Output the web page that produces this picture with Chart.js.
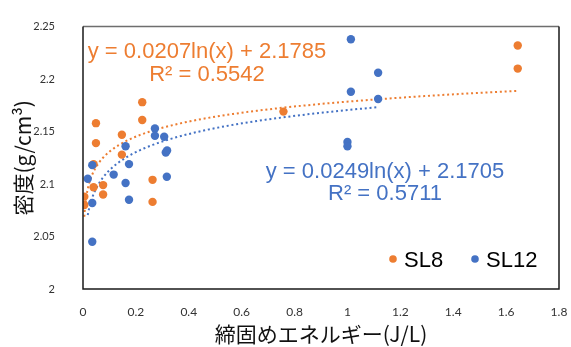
<!DOCTYPE html>
<html>
<head>
<meta charset="utf-8">
<script src="https://cdn.jsdelivr.net/npm/chart.js@4"></script>
<style>
  html, body { margin: 0; padding: 0; background: #fff; }
  #wrap { width: 571px; height: 347px; }
</style>
</head>
<body>
<div id="wrap"><canvas id="chart"></canvas></div>
<script>
const sl8X  = [0.224, 0.224, 0.049, 0.049, 0.147, 0.147, 0.040, 0.076, 0.076, 0.040, 0.005, 0.005, 0.263, 0.263, 0.758, 1.644, 1.644];
const sl8Y  = [2.178, 2.161, 2.158, 2.139, 2.147, 2.128, 2.119, 2.099, 2.090, 2.097, 2.088, 2.080, 2.104, 2.083, 2.169, 2.232, 2.210];
const sl12X = [0.272, 0.272, 0.307, 0.313, 0.318, 0.317, 0.161, 0.174, 0.116, 0.161, 0.174, 0.035, 0.018, 0.035, 0.035, 1.013, 1.013, 1.000, 1.000, 1.116, 1.116];
const sl12Y = [2.153, 2.146, 2.145, 2.130, 2.132, 2.107, 2.136, 2.119, 2.109, 2.101, 2.085, 2.118, 2.105, 2.082, 2.045, 2.238, 2.188, 2.140, 2.136, 2.206, 2.181];

// log trendlines as printed on the chart: y = a*ln(x) + b
const sl8Fit  = { a: 0.0207, b: 2.1785, r2: 0.5542 };
const sl12Fit = { a: 0.0249, b: 2.1705, r2: 0.5711 };

const xTicks = [0, 0.2, 0.4, 0.6, 0.8, 1, 1.2, 1.4, 1.6, 1.8];
const yTicks = [2, 2.05, 2.1, 2.15, 2.2, 2.25];

const ORANGE = '#ED7D31';
const BLUE = '#4472C4';

const toPoints = (xs, ys) => xs.map((x, i) => ({ x, y: ys[i] }));

// sample the fitted curve between the smallest and largest x of a series
function fitCurve(fit, xs) {
    const lo = Math.min(...xs), hi = Math.max(...xs);
    const pts = [];
    const n = 120;
    for (let i = 0; i <= n; i++) {
        // log spacing, denser near the left where the curve bends
        const x = lo * Math.pow(hi / lo, i / n);
        pts.push({ x, y: fit.a * Math.log(x) + fit.b });
    }
    return pts;
}

const fmt = v => String(+v.toFixed(2));

// border round the plot, equations and the in-plot legend
const decorPlugin = {
    id: 'decor',
    afterDraw(chart) {
        const { ctx, chartArea: a } = chart;
        ctx.save();
        ctx.lineWidth = 1.5;
        ctx.strokeStyle = '#6e6e6e';
        ctx.beginPath();
        ctx.moveTo(a.left, a.top); ctx.lineTo(a.right, a.top);
        ctx.stroke();
        ctx.strokeStyle = '#1a1a1a';
        ctx.beginPath();
        ctx.moveTo(a.right, a.top); ctx.lineTo(a.right, a.bottom);
        ctx.lineTo(a.left, a.bottom); ctx.lineTo(a.left, a.top);
        ctx.stroke();

        ctx.font = '22px "Liberation Sans", Arial, sans-serif';
        ctx.textAlign = 'center';
        ctx.textBaseline = 'alphabetic';
        const eq = f => 'y = ' + f.a.toFixed(4) + 'ln(x) + ' + f.b.toFixed(4);
        const rr = f => 'R² = ' + f.r2.toFixed(4);
        ctx.fillStyle = ORANGE;
        ctx.fillText(eq(sl8Fit), 207, 58);
        ctx.fillText(rr(sl8Fit), 207, 81);
        ctx.fillStyle = BLUE;
        ctx.fillText(eq(sl12Fit), 385, 178);
        ctx.fillText(rr(sl12Fit), 385, 200);

        // legend
        const items = [
            { label: 'SL8', color: ORANGE, dot: 393, text: 404 },
            { label: 'SL12', color: BLUE, dot: 475, text: 486 }
        ];
        ctx.font = '22px "Liberation Sans", Arial, sans-serif';
        ctx.textAlign = 'left';
        items.forEach(it => {
            ctx.fillStyle = it.color;
            ctx.beginPath();
            ctx.arc(it.dot, 259, 3.8, 0, Math.PI * 2);
            ctx.fill();
            ctx.fillStyle = '#000';
            ctx.fillText(it.label, it.text, 267);
        });
        ctx.restore();
    }
};

const tickFont = { family: 'Lato, "Open Sans", sans-serif', size: 11 };
const titleFont = { family: '"Noto Sans CJK JP", sans-serif', size: 21 };

new Chart(document.getElementById('chart'), {
    type: 'scatter',
    data: {
        datasets: [
            {
                label: 'SL8 trend',
                data: fitCurve(sl8Fit, sl8X),
                showLine: true,
                borderColor: ORANGE,
                borderWidth: 2,
                borderDash: [2, 2.8],
                pointRadius: 0,
                order: 3
            },
            {
                label: 'SL12 trend',
                data: fitCurve(sl12Fit, sl12X),
                showLine: true,
                borderColor: BLUE,
                borderWidth: 2,
                borderDash: [2, 2.8],
                pointRadius: 0,
                order: 2
            },
            {
                label: 'SL8',
                data: toPoints(sl8X, sl8Y),
                backgroundColor: ORANGE,
                borderColor: ORANGE,
                pointRadius: 4.2,
                borderWidth: 0,
                order: 1
            },
            {
                label: 'SL12',
                data: toPoints(sl12X, sl12Y),
                backgroundColor: BLUE,
                borderColor: BLUE,
                pointRadius: 4.2,
                borderWidth: 0,
                order: 0
            }
        ]
    },
    options: {
        responsive: true,
        maintainAspectRatio: false,
        animation: false,
        layout: { padding: { top: 19, right: 12, left: 0, bottom: 0 } },
        plugins: {
            legend: { display: false },
            tooltip: { enabled: false }
        },
        scales: {
            x: {
                type: 'linear',
                min: 0,
                max: 1.8,
                grid: { display: false, drawTicks: false },
                border: { display: false },
                afterBuildTicks: s => { s.ticks = xTicks.map(v => ({ value: v })); },
                afterFit: s => { s.height = 58; s.paddingLeft = 0; s.paddingRight = 0; },
                ticks: { color: '#333', font: { ...tickFont, size: 12 }, padding: 16, maxRotation: 0, callback: v => fmt(v) },
                title: { display: true, text: '締固めエネルギー(J/L)', color: '#111', font: titleFont, padding: { top: 0, bottom: 0 } }
            },
            y: {
                type: 'linear',
                min: 2,
                max: 2.25,
                grid: { display: false },
                border: { display: false },
                afterBuildTicks: s => { s.ticks = yTicks.map(v => ({ value: v })); },
                afterFit: s => { s.width = 83; },
                ticks: { color: '#333', font: tickFont, padding: 20, callback: v => fmt(v) },
                title: { display: true, text: '密度(g/cm³)', color: '#111', font: titleFont, padding: { top: 10, bottom: 0 } }
            }
        }
    },
    plugins: [decorPlugin]
});
</script>
</body>
</html>
